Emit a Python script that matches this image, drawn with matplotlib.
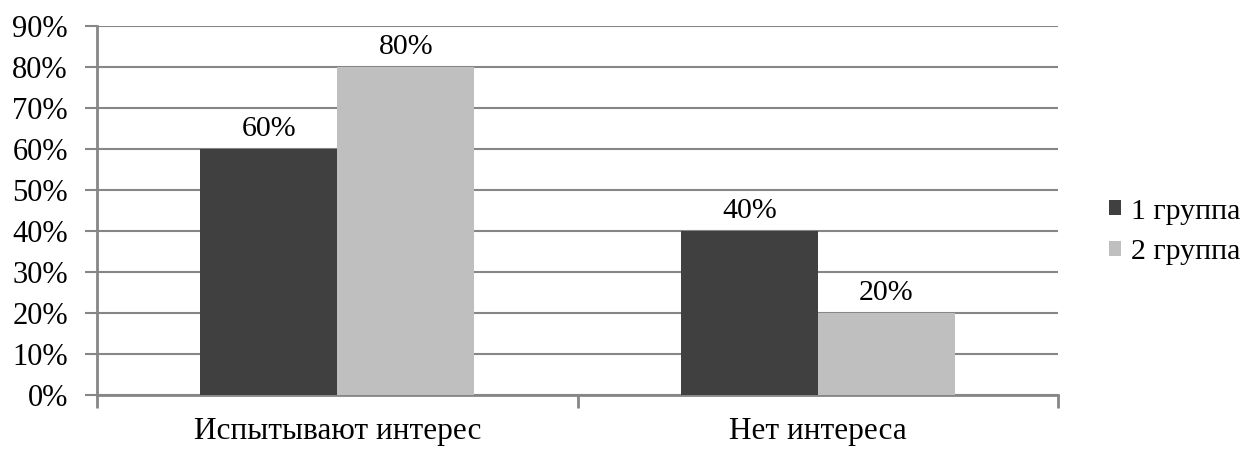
import matplotlib.pyplot as plt
import numpy as np
from matplotlib.ticker import FixedLocator

plt.rcParams['font.family'] = 'serif'
plt.rcParams['font.serif'] = ['Liberation Serif', 'DejaVu Serif']

categories = ['Испытывают интерес', 'Нет интереса']
groups = ['1 группа', '2 группа']
group1 = [60, 40]
group2 = [80, 20]
colors = ['#404040', '#bfbfbf']
grid_color = '#868686'

fig = plt.figure(figsize=(12.48, 4.49), dpi=100)
ax = fig.add_axes([97 / 1248, 1 - 395 / 449, (1058 - 97) / 1248, (395 - 26) / 449])

x = np.arange(len(categories))
w = 0.285
bars1 = ax.bar(x - w / 2, group1, w, color=colors[0], label=groups[0], zorder=3)
bars2 = ax.bar(x + w / 2, group2, w, color=colors[1], label=groups[1], zorder=3)

for bars in (bars1, bars2):
    for b in bars:
        ax.annotate(f'{b.get_height():.0f}%', (b.get_x() + b.get_width() / 2, b.get_height()),
                    xytext=(0, 5), textcoords='offset points', ha='center', va='bottom',
                    fontsize=21.5)

ax.set_xlim(-0.5, len(categories) - 0.5)
ax.set_ylim(0, 90)
ax.set_yticks(range(0, 91, 10))
ax.set_yticklabels([f'{v}%' for v in range(0, 91, 10)], fontsize=22)
ax.set_xticks(x)
ax.set_xticklabels(categories, fontsize=22.5)
ax.xaxis.set_minor_locator(FixedLocator([-0.5, 0.5, 1.5]))
ax.tick_params(axis='x', which='major', length=0, pad=16)
ax.tick_params(axis='x', which='minor', length=9, width=2, color=grid_color, direction='out')
ax.tick_params(axis='y', length=9, width=1.5, color=grid_color, direction='out', pad=12)

ax.grid(axis='y', color=grid_color, linewidth=1.5, zorder=0)
for s in ('top', 'right'):
    ax.spines[s].set_visible(False)
for s in ('left', 'bottom'):
    ax.spines[s].set_color(grid_color)
    ax.spines[s].set_linewidth(2)

fig.legend(loc='center left', bbox_to_anchor=(1082 / 1248, 1 - 232 / 449), frameon=False,
           fontsize=21.5, handlelength=0.4, handleheight=0.4, handletextpad=0.35,
           labelspacing=0.5)

fig.savefig('out.png', dpi=100)
